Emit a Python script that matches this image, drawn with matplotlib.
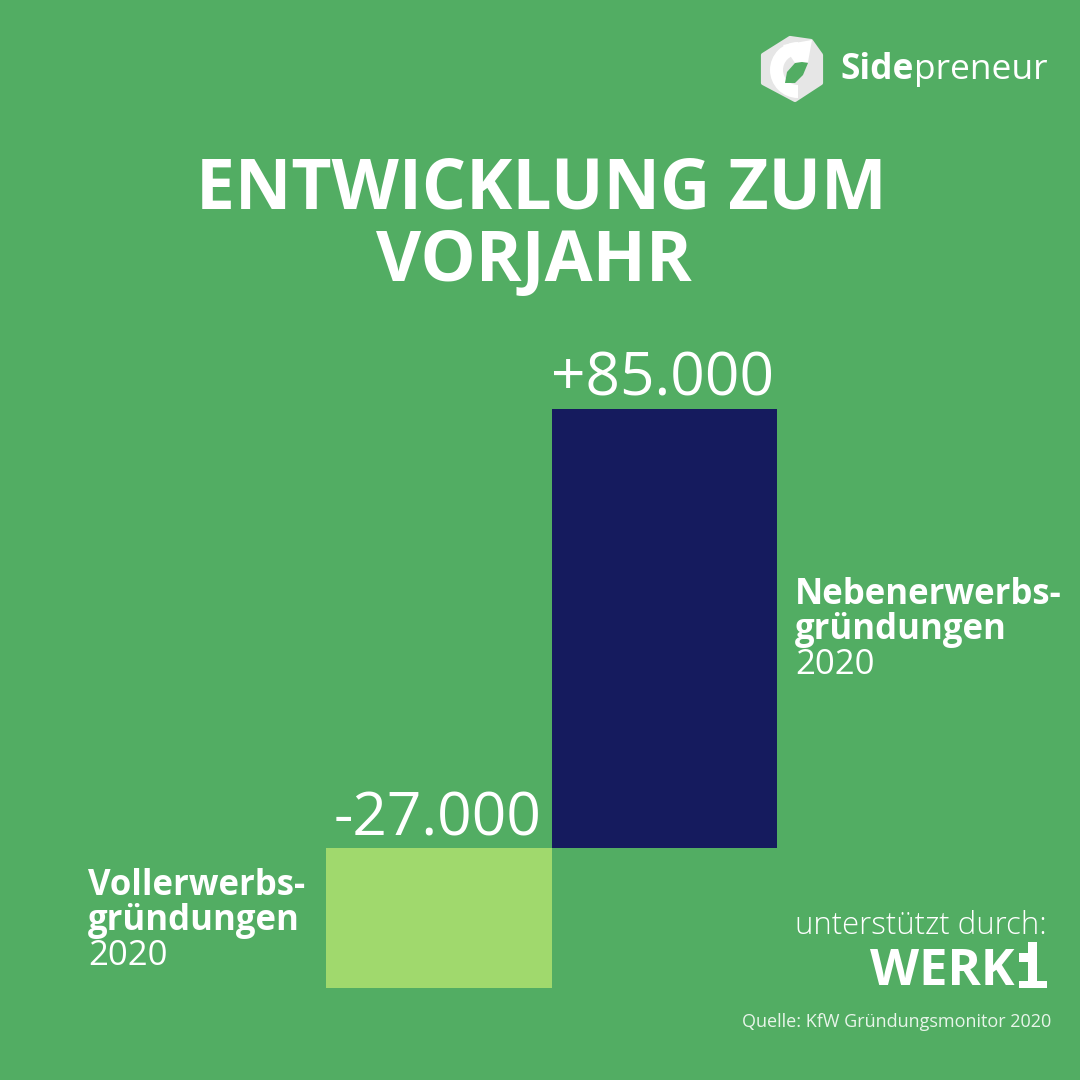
import matplotlib
matplotlib.use("Agg")
import matplotlib.pyplot as plt
from matplotlib.patches import Polygon, Rectangle, Wedge

plt.rcParams['font.family'] = ['Open Sans', 'DejaVu Sans']

# Daten
kategorien = ["Vollerwerbs-\ngründungen", "Nebenerwerbs-\ngründungen"]
jahr = "2020"
werte = [-27000, 85000]
wert_labels = ["-27.000", "+85.000"]

GRUEN = "#52ad63"
WEISS = "#ffffff"
farben = ["#a0d96d", "#151b5e"]

fig = plt.figure(figsize=(10.8, 10.8), dpi=100, facecolor=GRUEN)

# Ebene fuer Texte und Logos, in Pixeln des Bildes
bg = fig.add_axes([0, 0, 1, 1])
bg.set_xlim(0, 1080)
bg.set_ylim(1080, 0)
bg.axis("off")

# Balken
ax = fig.add_axes([326 / 1080, (1080 - 988) / 1080, 451 / 1080, 579 / 1080])
ax.bar([0, 1], werte, width=1.0, color=farben)
ax.set_xlim(-0.5, 1.5)
ax.set_ylim(min(werte), max(werte))
ax.axis("off")

# Titel
bg.text(541, 182, "ENTWICKLUNG ZUM", color=WEISS, fontsize=50, fontweight="bold",
        ha="center", va="center_baseline")
bg.text(534, 254, "VORJAHR", color=WEISS, fontsize=50, fontweight="bold",
        ha="center", va="center_baseline")

# Werte
bg.text(663, 395, wert_labels[1], color=WEISS, fontsize=43.5, ha="center", va="baseline")
bg.text(438, 836, wert_labels[0], color=WEISS, fontsize=43.5, ha="center", va="baseline")

# Beschriftung der Balken
for x, y, kat in [(795, 604, kategorien[1]), (88, 895, kategorien[0])]:
    zeile1, zeile2 = kat.split("\n")
    bg.text(x, y, zeile1, color=WEISS, fontsize=25, fontweight="bold", va="baseline")
    bg.text(x, y + 35, zeile2, color=WEISS, fontsize=25, fontweight="bold", va="baseline")
    bg.text(x, y + 70, jahr, color=WEISS, fontsize=25, va="baseline")

# Sidepreneur Logo
bg.add_patch(Polygon([(790, 38), (811, 41), (821, 55), (821, 83), (795, 100),
                      (763, 83), (763, 55)], closed=True,
                     facecolor="#e6e6e6", edgecolor="#e6e6e6", linewidth=3, joinstyle="round"))
bg.add_patch(Wedge((798, 70), 28, 90, 270, width=13, facecolor=WEISS, edgecolor="none"))
bg.add_patch(Polygon([(783, 45), (812, 40), (808, 62), (795, 63)], closed=True,
                     facecolor=WEISS, edgecolor="none"))
bg.add_patch(Polygon([(795, 63), (802, 62), (808, 63), (803, 75), (795, 83), (785, 83), (787, 72)],
                     closed=True, facecolor=GRUEN, edgecolor="none"))
logo1 = bg.text(840, 79, "Side", color=WEISS, fontsize=25.5, fontweight="bold", va="baseline")
fig.canvas.draw()
ext = logo1.get_window_extent()
bg.text(ext.x1 + 1, 79, "preneur", color=WEISS, fontsize=25.5, va="baseline")

# unterstuetzt durch
bg.text(1047, 934, "unterstützt durch:", color=WEISS, fontsize=22.4, fontweight="light",
        ha="right", va="baseline")
bg.text(1015, 985, "WERK", color=WEISS, fontsize=36.5, fontweight="bold", ha="right", va="baseline")
for x, y, w, h in [(1028, 942, 9, 39), (1019, 953, 9, 9), (1019, 981, 28, 7)]:
    bg.add_patch(Rectangle((x, y), w, h, facecolor=WEISS, edgecolor="none"))

# Quelle
bg.text(1051, 1027, "Quelle: KfW Gründungsmonitor 2020", color="#e8f5ea", fontsize=13,
        ha="right", va="baseline")

fig.savefig("out.png", dpi=100, facecolor=GRUEN)
